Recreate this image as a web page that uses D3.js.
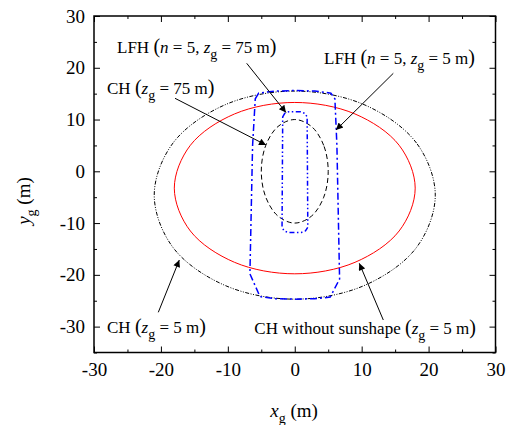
<!DOCTYPE html>
<html><head><meta charset="utf-8">
<script src="https://cdn.jsdelivr.net/npm/d3@7"></script>
<style>body{margin:0;background:#fff}svg{display:block}text{font-family:"Liberation Serif","Times New Roman",serif;fill:#000}</style>
</head><body><div id="chart"></div>
<script>
const xTicks = [-30, -20, -10, 0, 10, 20, 30];
const yTicks = [-30, -20, -10, 0, 10, 20, 30];
const xMinor = [-25, -15, -5, 5, 15, 25];
const yMinor = [-35, -25, -15, -5, 5, 15, 25];

// CH (z_g = 5 m) — outer dash-dot-dot curve
const chZ5 = [[21,-4.6],[18.2,5.45],[10.5,12.8],[0,15.5],[-10.5,12.8],[-18.2,5.45],[-21,-4.6],[-18.2,-14.7],[-10.5,-22.0],[0,-24.7],[10.5,-22.0],[18.2,-14.7]];
// CH without sunshape (z_g = 5 m) — red
const chNoSun = [[18,-3.25],[15.6,5.03],[9,11.08],[0,13.3],[-9,11.08],[-15.6,5.03],[-18,-3.25],[-15.6,-11.53],[-9,-17.58],[0,-19.8],[9,-17.58],[15.6,-11.53]];
// CH (z_g = 75 m) — dashed
const chZ75 = [[5,0],[4.33,5],[2.5,8.66],[0,10],[-2.5,8.66],[-4.33,5],[-5,0],[-4.33,-5],[-2.5,-8.66],[0,-10],[2.5,-8.66],[4.33,-5]];
// LFH (n = 5, z_g = 5 m) — blue dash-dot
const lfhZ5 = [[-5.9,14.0],[-5.4,15.1],[-3.0,15.5],[0,15.6],[3.0,15.5],[5.4,15.1],[6.0,14.0],[6.3,5.0],[6.7,-20.8],[5.3,-24.3],[3.0,-24.6],[0,-24.7],[-3.0,-24.6],[-5.2,-24.2],[-6.7,-19.8],[-6.3,5.0]];
// LFH (n = 5, z_g = 75 m) — blue inner
const lfhZ75 = [[-1.8,10.5],[-1.5,11.2],[-0.9,11.5],[0.9,11.5],[1.5,11.2],[1.85,10.5],[1.95,-10.8],[1.6,-11.5],[1.0,-11.8],[-1.0,-11.8],[-1.6,-11.5],[-1.9,-10.8]];

const W = 507, H = 425;
const m = {left: 94, right: 11.5, top: 16, bottom: 72.5};
const svg = d3.select("#chart").append("svg").attr("width", W).attr("height", H);
const x = d3.scaleLinear().domain([-30, 30]).range([m.left, W - m.right]);
const y = d3.scaleLinear().domain([-35, 30]).range([H - m.bottom, m.top]);

const defs = svg.append("defs");
defs.append("marker").attr("id","ah").attr("viewBox","0 0 10 10").attr("refX",10).attr("refY",5)
  .attr("markerWidth",9).attr("markerHeight",7).attr("markerUnits","userSpaceOnUse").attr("orient","auto")
  .append("path").attr("d","M0,0L10,5L0,10z").attr("fill","#000");

const closedCurve = d3.line().x(d => x(d[0])).y(d => y(d[1])).curve(d3.curveCatmullRomClosed);
const closedLin = d3.line().x(d => x(d[0])).y(d => y(d[1])).curve(d3.curveLinearClosed);

svg.append("path").attr("d", closedCurve(chZ5)).attr("fill","none").attr("stroke","#000").attr("stroke-width",1).attr("stroke-dasharray","4,1.5,1,1.5,1,1.5");
svg.append("path").attr("d", closedCurve(chNoSun)).attr("fill","none").attr("stroke","#ff0000").attr("stroke-width",1);
svg.append("path").attr("d", closedCurve(chZ75)).attr("fill","none").attr("stroke","#000").attr("stroke-width",1).attr("stroke-dasharray","5,3");
svg.append("path").attr("d", closedLin(lfhZ5)).attr("fill","none").attr("stroke","#0000ff").attr("stroke-width",1.5).attr("stroke-dasharray","7,3,2,3");
svg.append("path").attr("d", closedLin(lfhZ75)).attr("fill","none").attr("stroke","#0000ff").attr("stroke-width",1.5).attr("stroke-dasharray","5,2.5,1.5,2.5,1.5,2.5");

const fmt = d => String(d);
svg.append("g").attr("transform",`translate(0,${H - m.bottom})`)
  .call(d3.axisBottom(x).tickValues(xTicks).tickSizeInner(-6).tickSizeOuter(0).tickPadding(10).tickFormat(fmt));
svg.append("g").attr("transform",`translate(0,${m.top})`)
  .call(d3.axisTop(x).tickValues(xTicks).tickSizeInner(-6).tickSizeOuter(0).tickFormat(""));
svg.append("g").attr("transform",`translate(${m.left},0)`)
  .call(d3.axisLeft(y).tickValues(yTicks).tickSizeInner(-6).tickSizeOuter(0).tickPadding(9).tickFormat(fmt));
svg.append("g").attr("transform",`translate(${W - m.right},0)`)
  .call(d3.axisRight(y).tickValues(yTicks).tickSizeInner(-6).tickSizeOuter(0).tickFormat(""));
svg.append("g").attr("transform",`translate(0,${H - m.bottom})`).call(d3.axisBottom(x).tickValues(xMinor).tickSize(-3).tickFormat(""));
svg.append("g").attr("transform",`translate(0,${m.top})`).call(d3.axisTop(x).tickValues(xMinor).tickSize(-3).tickFormat(""));
svg.append("g").attr("transform",`translate(${m.left},0)`).call(d3.axisLeft(y).tickValues(yMinor).tickSize(-3).tickFormat(""));
svg.append("g").attr("transform",`translate(${W - m.right},0)`).call(d3.axisRight(y).tickValues(yMinor).tickSize(-3).tickFormat(""));
svg.selectAll(".domain").remove();
svg.selectAll(".tick line").attr("stroke","#000").attr("stroke-width",1);
svg.selectAll(".tick text").attr("font-size",19).attr("font-family","Liberation Serif").attr("fill","#000");
svg.append("rect").attr("x",m.left).attr("y",m.top).attr("width",W-m.left-m.right).attr("height",H-m.top-m.bottom)
  .attr("fill","none").attr("stroke","#000").attr("stroke-width",1.5);

// axis titles
const xl = svg.append("text").attr("x",294).attr("y",417).attr("text-anchor","middle").attr("font-size",19);
xl.append("tspan").attr("font-style","italic").text("x");
xl.append("tspan").attr("font-size",14).attr("dy",6).text("g");
xl.append("tspan").attr("dy",-6).text(" (m)");
const yl = svg.append("text").attr("transform","translate(30,201) rotate(-90)").attr("text-anchor","middle").attr("font-size",19);
yl.append("tspan").attr("font-style","italic").text("y");
yl.append("tspan").attr("font-size",14).attr("dy",6).text("g");
yl.append("tspan").attr("dy",-6).text(" (m)");

// annotations
function label(px, py, anchor, parts){
  const t = svg.append("text").attr("x",px).attr("y",py).attr("text-anchor",anchor).attr("font-size",17);
  parts.forEach(p => {
    const s = t.append("tspan").text(p.t);
    if (p.i) s.attr("font-style","italic");
    if (p.p) s.attr("font-size",20);
    if (p.sub) s.attr("font-size",14).attr("dy",6);
    if (p.up) s.attr("dy",-6);
  });
}
label(117, 53, "start", [{t:"LFH "},{t:"(",p:1},{t:"n",i:1},{t:" = 5, "},{t:"z",i:1},{t:"g",sub:1},{t:" = 75 m",up:1},{t:")",p:1}]);
label(107, 94, "start", [{t:"CH "},{t:"(",p:1},{t:"z",i:1},{t:"g",sub:1},{t:" = 75 m",up:1},{t:")",p:1}]);
label(324, 64, "start", [{t:"LFH "},{t:"(",p:1},{t:"n",i:1},{t:" = 5, "},{t:"z",i:1},{t:"g",sub:1},{t:" = 5 m",up:1},{t:")",p:1}]);
label(107, 333, "start", [{t:"CH "},{t:"(",p:1},{t:"z",i:1},{t:"g",sub:1},{t:" = 5 m",up:1},{t:")",p:1}]);
label(476, 334, "end", [{t:"CH without sunshape "},{t:"(",p:1},{t:"z",i:1},{t:"g",sub:1},{t:" = 5 m",up:1},{t:")",p:1}]);

const arrows = [[246.7,63.3,286,112.5],[175,98.3,266,145],[393.3,73.3,336,130],[158.3,312.3,179.3,260],[383.3,320,359.3,263.3]];
arrows.forEach(a => svg.append("line").attr("x1",a[0]).attr("y1",a[1]).attr("x2",a[2]).attr("y2",a[3])
  .attr("stroke","#000").attr("stroke-width",1).attr("marker-end","url(#ah)"));
</script></body></html>
